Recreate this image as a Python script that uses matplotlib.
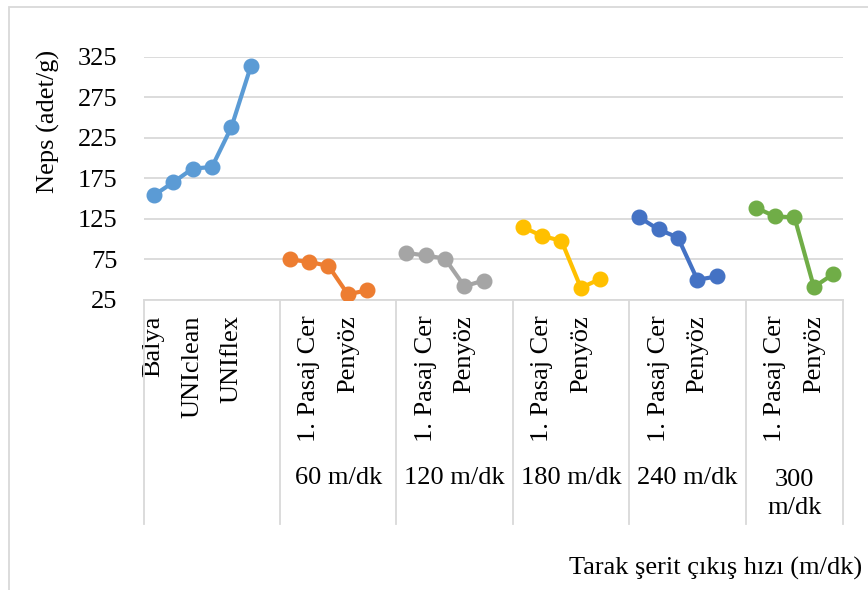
import matplotlib
matplotlib.use("Agg")
import matplotlib.pyplot as plt
import matplotlib.transforms as mtransforms
from matplotlib.patches import Rectangle

plt.rcParams["font.family"] = ["Liberation Serif", "DejaVu Serif"]
plt.rcParams["font.size"] = 19

# Neps values (adet/g) per stage
raw_vals = [154, 170, 187, 189, 238, 313]
raw_ticks = ["Balya", "", "UNIclean", "", "UNIflex", ""]

speeds = ["60 m/dk", "120 m/dk", "180 m/dk", "240 m/dk", "300\nm/dk"]
speed_vals = [
    [75, 72, 67, 32, 37],
    [83, 80, 76, 42, 49],
    [115, 104, 98, 40, 51],
    [127, 112, 102, 50, 54],
    [139, 128, 127, 41, 57],
]
speed_ticks = ["", "1. Pasaj Cer", "", "Penyöz", ""]

colors = ["#5B9BD5", "#ED7D31", "#A5A5A5", "#FFC000", "#4472C4", "#70AD47"]

W, H = 868, 590
fig = plt.figure(figsize=(W / 100, H / 100), dpi=100)
ax_l, ax_r, ax_t, ax_b = 144, 843, 56.7, 300
ax = fig.add_axes([ax_l / W, 1 - ax_b / H, (ax_r - ax_l) / W, (ax_b - ax_t) / H])
trans = mtransforms.blended_transform_factory(ax.transData, ax.transAxes)


def px_to_axes(y):
    return (ax_b - y) / (ax_b - ax_t)


# slot layout: each group gets one blank slot after it, last group none
groups = [(raw_vals, raw_ticks, "")] + [(v, speed_ticks, s) for v, s in zip(speed_vals, speeds)]
pos = 0
bounds = [-0.5]
tick_pos, tick_lab = [], []
for i, (vals, ticks, name) in enumerate(groups):
    xs = list(range(pos, pos + len(vals)))
    ax.plot(xs, vals, color=colors[i], lw=3, marker="o", ms=10.5, zorder=3)
    for x, t in zip(xs, ticks):
        if t:
            tick_pos.append(x)
            tick_lab.append(t)
    pos += len(vals) + (1 if i < len(groups) - 1 else 0)
    bounds.append(pos - 0.5)
    y_txt = 494 if "\n" in name else 478
    ax.text((bounds[-2] + bounds[-1]) / 2, px_to_axes(y_txt), name, transform=trans,
            ha="center", va="center", linespacing=1.3)

ax.set_xlim(-0.5, pos - 0.5)
ax.set_ylim(25, 325)
ax.set_yticks(range(25, 326, 50))
ax.grid(axis="y", color="#D9D9D9", lw=1.3)
ax.set_axisbelow(True)
for s in ["left", "right", "top"]:
    ax.spines[s].set_visible(False)
ax.spines["bottom"].set_color("#D9D9D9")
ax.spines["bottom"].set_linewidth(1.3)
ax.tick_params(axis="y", length=0, pad=19)
ax.tick_params(axis="x", length=0, pad=11)
ax.set_xticks(tick_pos)
ax.set_xticklabels(tick_lab, rotation=90, va="top", ha="center")

# group separators below the axis
for b in bounds:
    ax.plot([b, b], [0, px_to_axes(524)], color="#D9D9D9", lw=1.3, transform=trans, clip_on=False)

fig.text(48 / W, 1 - 121 / H, "Neps (adet/g)", rotation=90, ha="center", va="center")
fig.text(862 / W, 1 - 568 / H, "Tarak şerit çıkış hızı (m/dk)", ha="right", va="center")

# chart area border
fig.patches.append(Rectangle((9 / W, -0.1), 1.2, 1 - 7 / H + 0.1, transform=fig.transFigure,
                             fill=False, edgecolor="#D9D9D9", lw=1.3))

fig.savefig("out.png", dpi=100)
